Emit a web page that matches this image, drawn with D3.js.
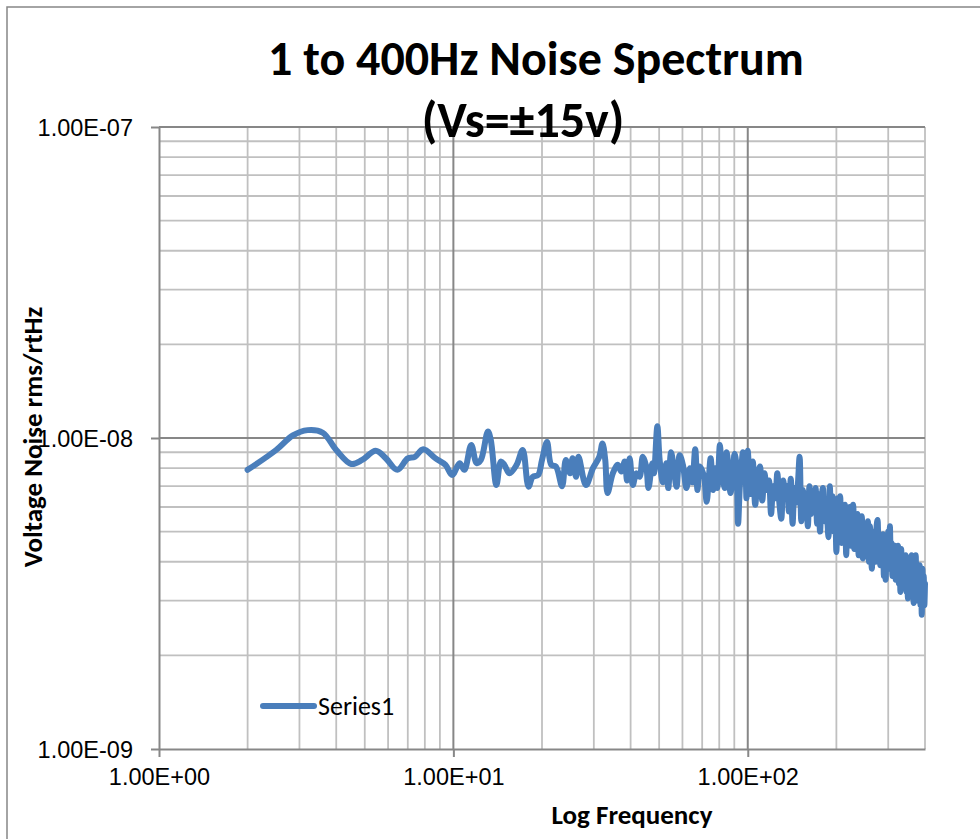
<!DOCTYPE html>
<html>
<head>
<meta charset="utf-8">
<script src="https://cdn.jsdelivr.net/npm/d3@7"></script>
<style>
  body { margin: 0; background: #fff; }
  svg { display: block; font-family: Carlito, Calibri, Lato, sans-serif; }
  .grid-minor { stroke: #c0c0c0; stroke-width: 1.8; }
  .grid-major { stroke: #878787; stroke-width: 2; }
  .axis path, .axis line { stroke: #878787; stroke-width: 2; }
  .axis text { fill: #000; font-size: 23.5px; }
</style>
</head>
<body>
<svg id="chart" width="980" height="839"></svg>
<script>
"use strict";

/******************************************************* Data *******************************************************/

// Hand-read points, 2 to 99 Hz (frequency in Hz, noise in nV/rtHz)
const FREQ_HZ = [
  2.0, 2.5, 2.85, 3.2, 3.6, 4.0, 4.5, 4.9, 5.45, 5.9,
  6.45, 7.0, 7.4, 7.9, 8.7, 9.4, 9.9, 10.5, 10.9, 11.5,
  12.0, 12.4, 13.1, 13.4, 14.0, 14.5, 14.9, 15.5, 16.4, 17.2,
  18.0, 18.6, 19.4, 20.0, 20.8, 21.5, 22.3, 23.4, 24.1, 24.9,
  25.4, 26.1, 26.6, 28.2, 29.8, 31.3, 32.1, 32.8, 33.4, 34.8,
  36.2, 37.2, 38.2, 38.9, 39.7, 40.7, 41.8, 42.9, 44.0, 45.2,
  46.0, 47.4, 48.0, 49.3, 50.2, 51.5, 52.9, 53.7, 54.9, 56.3,
  57.3, 58.7, 60.2, 61.9, 63.6, 64.8, 66.3, 67.5, 68.6, 69.8,
  71.2, 72.5, 73.6, 74.8, 76.3, 77.5, 78.8, 80.4, 81.3, 82.2,
  83.5, 84.8, 86.0, 87.4, 88.8, 90.2, 91.5, 92.7, 94.0, 95.4,
  96.2, 97.0, 98.0, 99.0
];
const NOISE_NV = [
  7.9, 9.15, 10.2, 10.6, 10.4, 9.15, 8.25, 8.5, 9.1, 8.6,
  7.9, 8.6, 8.7, 9.2, 8.6, 8.2, 7.6, 8.3, 7.9, 9.5,
  8.3, 8.5, 10.5, 9.85, 7.06, 8.4, 8.2, 7.7, 8.2, 9.15,
  6.97, 7.5, 7.6, 8.5, 9.7, 8.2, 8.1, 7.0, 8.5, 7.7,
  8.6, 7.5, 8.7, 7.06, 8.0, 8.7, 9.6, 8.5, 6.65, 7.7,
  8.2, 7.8, 8.4, 7.3, 8.6, 7.06, 7.7, 7.5, 8.7, 8.1,
  6.9, 8.3, 7.7, 10.9, 8.5, 7.2, 8.3, 6.9, 9.0, 7.7,
  6.97, 8.8, 8.2, 6.9, 8.0, 7.2, 9.2, 6.8, 8.1, 7.9,
  7.4, 6.24, 7.2, 8.6, 6.8, 8.0, 6.9, 9.5, 8.2, 7.5,
  6.9, 9.0, 8.0, 6.65, 7.4, 8.9, 8.2, 5.3, 7.0, 8.3,
  9.0, 7.6, 8.1, 6.4
];

// FFT bins from 100 Hz to 400 Hz, 2 Hz apart (nV/rtHz)
const BIN_START_HZ = 100;
const BIN_STEP_HZ = 2;
const BIN_NV = [
  9.1, 6.6, 8.4, 6.1, 7.5, 8.1, 6.3, 7.7, 6.8, 7.3,
  5.7, 7.0, 6.4, 7.7, 6.2, 5.5, 7.3, 6.5, 7.0, 5.8,
  7.4, 5.3, 6.9, 6.2, 7.1, 8.7, 5.4, 6.8, 5.9, 6.6,
  5.2, 7.0, 5.7, 6.5, 6.0, 6.9, 5.3, 6.6, 5.0, 6.3,
  6.9, 5.4, 6.1, 5.6, 4.8, 7.0, 5.2, 6.5, 5.0, 6.2,
  4.3, 6.4, 5.1, 6.5, 4.6, 5.9, 5.0, 6.1, 4.2, 5.8,
  4.9, 6.0, 4.5, 5.6, 6.1, 4.4, 5.5, 4.8, 5.7, 4.2,
  5.4, 4.6, 5.6, 4.1, 5.3, 4.7, 5.1, 4.3, 5.4, 4.0,
  5.2, 4.4, 3.8, 5.0, 4.3, 4.9, 4.0, 5.2, 5.45, 4.1,
  4.8, 3.9, 4.6, 4.2, 4.9, 3.6, 4.5, 3.5, 4.7, 4.0,
  5.0, 3.8, 5.2, 4.1, 4.6, 3.6, 4.4, 3.9, 4.5, 3.5,
  4.3, 3.7, 4.5, 3.4, 4.2, 3.2, 4.4, 3.6, 4.1, 3.3,
  4.0, 3.5, 4.2, 3.2, 3.9, 3.05, 4.1, 3.4, 3.8, 3.1,
  4.2, 3.3, 3.9, 2.95, 3.7, 3.4, 4.2, 3.2, 3.8, 3.0,
  3.6, 3.3, 3.9, 2.9, 3.5, 2.7, 3.8, 3.1, 3.6, 2.9,
  3.4
];

// Axes
const X_DOMAIN = [1, 400];
const Y_DOMAIN = [1e-9, 1e-7];
const X_TICKS = [1, 10, 100];
const X_TICK_LABELS = ["1.00E+00", "1.00E+01", "1.00E+02"];
const Y_TICKS = [1e-9, 1e-8, 1e-7];
const Y_TICK_LABELS = ["1.00E-09", "1.00E-08", "1.00E-07"];

// Text
const TITLE = "1 to 400Hz Noise Spectrum";
const SUBTITLE = "(Vs=\u00b115v)";
const X_TITLE = "Log Frequency";
const Y_TITLE = "Voltage Noise rms/rtHz";
const SERIES_NAME = "Series1";

/******************************************************* Layout *******************************************************/

const SVG_ID = "#chart";
const PLOT_LEFT = 159;
const PLOT_RIGHT = 925;
const PLOT_TOP = 127;
const PLOT_BOTTOM = 749;
const LINE_COLOR = "#4a7ebb";
const LINE_WIDTH = 6;

/******************************************************* Render *******************************************************/

function buildSeries() {
  let points = [];
  for (let i = 0; i < FREQ_HZ.length; i++) {
    points.push({ Hz: FREQ_HZ[i], V: NOISE_NV[i] * 1e-9 });
  }
  for (let j = 0; j < BIN_NV.length; j++) {
    points.push({ Hz: BIN_START_HZ + j * BIN_STEP_HZ, V: BIN_NV[j] * 1e-9 });
  }
  return points;
}

function draw() {
  const SVG = d3.select(SVG_ID);

  // Chart frame
  SVG.append("rect")
    .attr("x", 7)
    .attr("y", 7)
    .attr("width", 1000)
    .attr("height", 900)
    .attr("fill", "#fff")
    .attr("stroke", "#878787")
    .attr("stroke-width", 1.5);

  const X_SCALE = d3.scaleLog().domain(X_DOMAIN).range([PLOT_LEFT, PLOT_RIGHT]);
  const Y_SCALE = d3.scaleLog().domain(Y_DOMAIN).range([PLOT_BOTTOM, PLOT_TOP]);

  // Gridlines
  const G_GRID = SVG.append("g").classed("g-grid", true);

  const xMinor = X_SCALE.ticks().filter(function(d) { return X_TICKS.indexOf(d) < 0; });
  const yMinor = Y_SCALE.ticks().filter(function(d) { return Y_TICKS.indexOf(d) < 0; });

  G_GRID.selectAll(".gx-minor")
    .data(xMinor)
    .enter()
    .append("line")
    .attr("class", "grid-minor")
    .attr("x1", function(d) { return X_SCALE(d); })
    .attr("x2", function(d) { return X_SCALE(d); })
    .attr("y1", PLOT_TOP)
    .attr("y2", PLOT_BOTTOM);

  G_GRID.selectAll(".gy-minor")
    .data(yMinor)
    .enter()
    .append("line")
    .attr("class", "grid-minor")
    .attr("x1", PLOT_LEFT)
    .attr("x2", PLOT_RIGHT)
    .attr("y1", function(d) { return Y_SCALE(d); })
    .attr("y2", function(d) { return Y_SCALE(d); });

  G_GRID.selectAll(".gx-major")
    .data(X_TICKS.slice(1))
    .enter()
    .append("line")
    .attr("class", "grid-major")
    .attr("x1", function(d) { return X_SCALE(d); })
    .attr("x2", function(d) { return X_SCALE(d); })
    .attr("y1", PLOT_TOP)
    .attr("y2", PLOT_BOTTOM);

  G_GRID.selectAll(".gy-major")
    .data(Y_TICKS.slice(1))
    .enter()
    .append("line")
    .attr("class", "grid-major")
    .attr("x1", PLOT_LEFT)
    .attr("x2", PLOT_RIGHT)
    .attr("y1", function(d) { return Y_SCALE(d); })
    .attr("y2", function(d) { return Y_SCALE(d); });

  // Axes
  const Y_AXIS = d3.axisLeft(Y_SCALE)
    .tickValues(Y_TICKS)
    .tickFormat(function(d, i) { return Y_TICK_LABELS[i]; })
    .tickSize(8)
    .tickPadding(18)
    .tickSizeOuter(0);

  SVG.append("g")
    .attr("class", "axis")
    .attr("transform", "translate(" + PLOT_LEFT + ",0)")
    .call(Y_AXIS)
    .call(function(g) { g.selectAll("text").attr("dy", "0.35em"); });

  const X_AXIS = d3.axisBottom(X_SCALE)
    .tickValues(X_TICKS)
    .tickFormat(function(d, i) { return X_TICK_LABELS[i]; })
    .tickSize(8)
    .tickPadding(11)
    .tickSizeOuter(0);

  SVG.append("g")
    .attr("class", "axis")
    .attr("transform", "translate(0," + PLOT_BOTTOM + ")")
    .call(X_AXIS);

  SVG.selectAll(".axis .domain").attr("stroke-width", 2.5);

  // Series line
  const LINE = d3.line()
    .curve(d3.curveCatmullRom)
    .x(function(d) { return X_SCALE(d.Hz); })
    .y(function(d) { return Y_SCALE(d.V); });

  SVG.append("path")
    .datum(buildSeries())
    .attr("fill", "none")
    .attr("stroke", LINE_COLOR)
    .attr("stroke-width", LINE_WIDTH)
    .attr("stroke-linejoin", "round")
    .attr("stroke-linecap", "round")
    .attr("d", LINE);

  // Titles
  SVG.append("text")
    .attr("x", 536)
    .attr("y", 75)
    .attr("text-anchor", "middle")
    .attr("font-weight", "bold")
    .attr("font-size", 48)
    .text(TITLE);

  SVG.append("text")
    .attr("x", 523)
    .attr("y", 137)
    .attr("text-anchor", "middle")
    .attr("font-weight", "bold")
    .attr("font-size", 50)
    .text(SUBTITLE);

  SVG.append("text")
    .attr("x", 632)
    .attr("y", 824)
    .attr("text-anchor", "middle")
    .attr("font-weight", "bold")
    .attr("font-size", 27)
    .text(X_TITLE);

  SVG.append("text")
    .attr("transform", "translate(42,437) rotate(-90)")
    .attr("text-anchor", "middle")
    .attr("font-weight", "bold")
    .attr("font-size", 27)
    .text(Y_TITLE);

  // Legend
  const G_LEGEND = SVG.append("g").attr("transform", "translate(263,706)");
  G_LEGEND.append("line")
    .attr("x1", 0)
    .attr("x2", 51)
    .attr("stroke", LINE_COLOR)
    .attr("stroke-width", LINE_WIDTH)
    .attr("stroke-linecap", "round");
  G_LEGEND.append("text")
    .attr("x", 55)
    .attr("dy", "0.35em")
    .attr("font-size", 26)
    .text(SERIES_NAME);
}

draw();
</script>
</body>
</html>
